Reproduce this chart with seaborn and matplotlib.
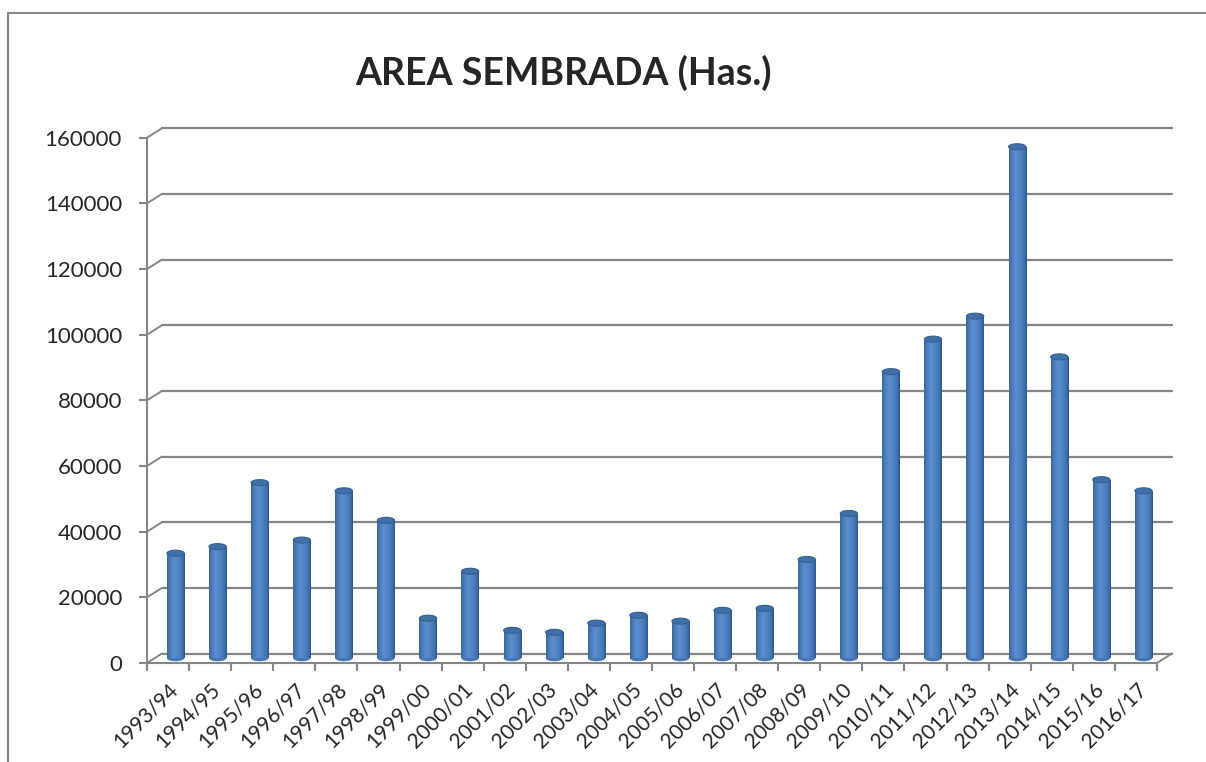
import numpy as np
import pandas as pd
import matplotlib
matplotlib.use('Agg')
import matplotlib.pyplot as plt
from matplotlib.patches import Ellipse, Rectangle
from matplotlib.colors import LinearSegmentedColormap
import seaborn as sns

# data
campaigns = ['1993/94', '1994/95', '1995/96', '1996/97', '1997/98', '1998/99',
             '1999/00', '2000/01', '2001/02', '2002/03', '2003/04', '2004/05',
             '2005/06', '2006/07', '2007/08', '2008/09', '2009/10', '2010/11',
             '2011/12', '2012/13', '2013/14', '2014/15', '2015/16', '2016/17']
area_has = [32000, 34000, 53500, 36000, 51000, 42000,
            12200, 26500, 8500, 7900, 10700, 13100,
            11300, 14600, 15200, 30100, 44100, 87300,
            97200, 104200, 155800, 91800, 54400, 51000]
y_ticks = [0, 20000, 40000, 60000, 80000, 100000, 120000, 140000, 160000]
title = 'AREA SEMBRADA (Has.)'

df = pd.DataFrame({'campana': campaigns, 'area': area_has})

sns.set_style('white')
plt.rcParams['font.family'] = ['Lato', 'DejaVu Sans']

W, H = 1206, 762
fig = plt.figure(figsize=(W / 100, H / 100), dpi=100)
# plot area in pixels: x 147..1157, y 137.7..663 (from top)
ax = fig.add_axes([147 / W, (H - 663) / H, 1010 / W, 525.3 / H])

n = len(campaigns)
ymax = y_ticks[-1]
px_x = 1010 / n             # pixels per category
px_y = 525.3 / ymax          # pixels per unit of area
dxb, dyb = 15 / px_x, 9.5 / px_y   # back wall offset
dxm, dym = dxb / 2, dyb / 2        # bars sit at mid depth

grid_col = '#868686'

# back wall gridlines with the 3D corner
for v in y_ticks:
    ax.plot([-0.5 + dxb, n - 0.5 + dxb], [v + dyb, v + dyb], color=grid_col,
            lw=1.6, clip_on=False, zorder=0.5)
    ax.plot([-0.5, -0.5 + dxb], [v, v + dyb], color=grid_col, lw=1.4,
            clip_on=False, zorder=0.5)
ax.plot([n - 0.5, n - 0.5 + dxb], [0, dyb], color=grid_col, lw=1.4,
        clip_on=False, zorder=0.5)

sns.barplot(data=df, x='campana', y='area', color='#4F81BD', width=0.41,
            ax=ax, zorder=2)

cyl = LinearSegmentedColormap.from_list('cyl', [
    (0.0, '#3A6797'), (0.12, '#4878B3'), (0.4, '#5A8FD0'),
    (0.7, '#4C80BF'), (0.9, '#3E6EA6'), (1.0, '#2D5383')])
grad = np.linspace(0, 1, 64).reshape(1, -1)
cap_h = 6 / px_y

for p in list(ax.patches):
    p.set_x(p.get_x() + dxm)
    p.set_y(p.get_y() + dym)
    x0, w, h = p.get_x(), p.get_width(), p.get_height()
    y0 = p.get_y()
    p.set_facecolor('none')
    p.set_edgecolor('none')
    im = ax.imshow(grad, extent=(x0, x0 + w, y0, y0 + h), aspect='auto',
                   cmap=cyl, interpolation='bicubic', zorder=2)
    im.set_clip_path(p)
    ax.add_patch(Ellipse((x0 + w / 2, y0), w, cap_h, facecolor='#4677B2',
                         edgecolor='none', zorder=1.9, clip_on=False))
    ax.add_patch(Ellipse((x0 + w / 2, y0 + h), w, cap_h, facecolor='#4170A9',
                         edgecolor='#36618F', lw=0.8, zorder=2.5, clip_on=False))

ax.set_xlim(-0.5, n - 0.5)
ax.set_ylim(0, ymax)

# front axes
for s in ['top', 'right']:
    ax.spines[s].set_visible(False)
for s in ['left', 'bottom']:
    ax.spines[s].set_color(grid_col)
    ax.spines[s].set_linewidth(1.5)

ax.set_yticks(y_ticks)
ax.set_yticklabels([str(v) for v in y_ticks])
ax.set_xticks(range(n))
ax.set_xticklabels(campaigns, rotation=45, ha='right', rotation_mode='anchor')
ax.set_xticks(np.arange(-0.5, n, 1.0), minor=True)
ax.tick_params(axis='y', which='major', length=6, width=1.5, color=grid_col,
               labelsize=16, pad=12, left=True)
ax.tick_params(axis='x', which='major', length=0, labelsize=15, pad=12)
ax.tick_params(axis='x', which='minor', length=6, width=1.5, color=grid_col,
               bottom=True)
ax.set_xlabel('')
ax.set_ylabel('')
ax.grid(False)

fig.text(563 / W, (H - 85) / H, title, ha='center', va='baseline',
         fontsize=27, fontweight='bold')

# chart frame
fig.patches.append(Rectangle((8 / W, -0.1), 1.2, (H - 13) / H + 0.1,
                             transform=fig.transFigure, fill=False,
                             edgecolor=grid_col, lw=1.5))

fig.savefig('out.png', dpi=100)
